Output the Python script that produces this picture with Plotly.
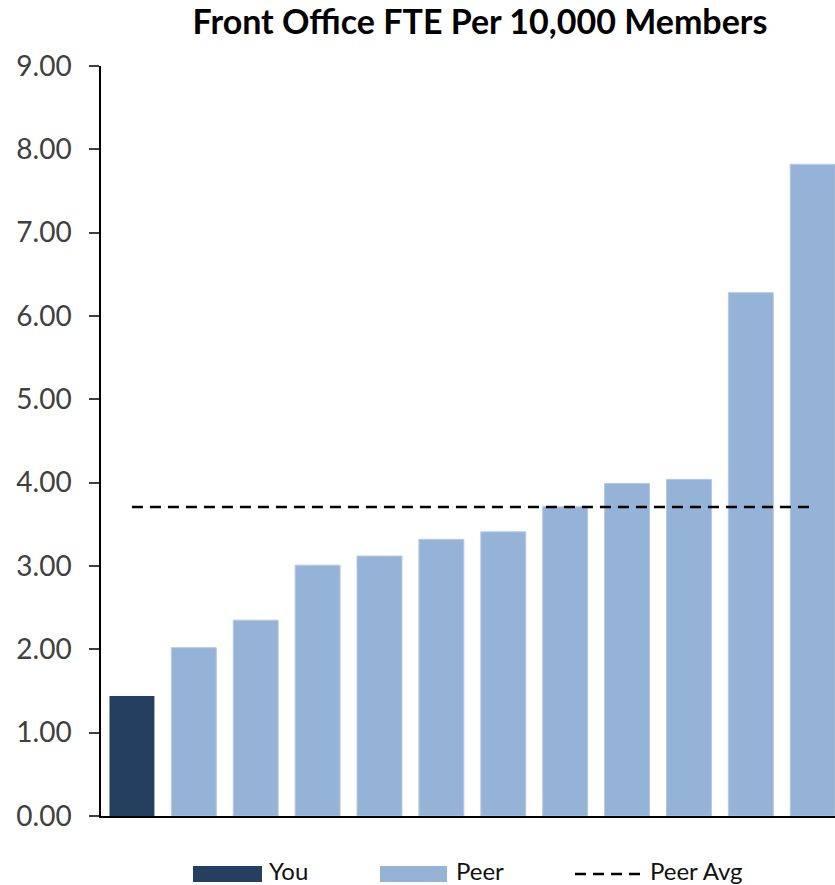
import plotly.graph_objects as go

# Front office staffing, FTE per 10,000 members
categories = ["You", "Peer 1", "Peer 2", "Peer 3", "Peer 4", "Peer 5",
              "Peer 6", "Peer 7", "Peer 8", "Peer 9", "Peer 10", "Peer 11"]
values = [1.44, 2.02, 2.35, 3.01, 3.12, 3.32, 3.41, 3.71, 3.99, 4.04, 6.28, 7.82]
groups = ["You"] + ["Peer"] * 11

y_ticks = [0, 1, 2, 3, 4, 5, 6, 7, 8, 9]
legend_labels = ["You", "Peer", "Peer Avg"]

peer_avg = sum(values) / len(values)

YOU_COLOR = "#243F60"
PEER_COLOR = "#95B3D7"
FONT = "Lato"

W, H = 835, 885
ML, MR, MT, MB = 101, 0, 66, 69
PW, PH = W - ML - MR, H - MT - MB


def px_x(px):
    return (px - ML) / PW


def px_y(py):
    return (H - MB - py) / PH


you_x = [c for c, g in zip(categories, groups) if g == "You"]
you_y = [v for v, g in zip(values, groups) if g == "You"]
peer_x = [c for c, g in zip(categories, groups) if g == "Peer"]
peer_y = [v for v, g in zip(values, groups) if g == "Peer"]

fig = go.Figure()
fig.add_trace(go.Bar(x=you_x, y=you_y, name="You", width=0.726,
                     marker=dict(color=YOU_COLOR, line=dict(width=0))))
fig.add_trace(go.Bar(x=peer_x, y=peer_y, name="Peer", width=0.726,
                     marker=dict(color=PEER_COLOR,
                                 line=dict(width=1, color="#B4C9E4"))))
fig.add_trace(go.Scatter(x=[categories[0], categories[-1]],
                         y=[peer_avg, peer_avg], mode="lines",
                         name="Peer Avg",
                         line=dict(color="black", width=2.5, dash="11px,7px")))

# Legend drawn beneath the plot with wide swatches
shapes = [
    dict(type="rect", xref="paper", yref="paper",
         x0=px_x(193), x1=px_x(262), y0=px_y(882), y1=px_y(866),
         fillcolor=YOU_COLOR, line=dict(width=0), layer="above"),
    dict(type="rect", xref="paper", yref="paper",
         x0=px_x(380), x1=px_x(447), y0=px_y(882), y1=px_y(866),
         fillcolor=PEER_COLOR, line=dict(width=0), layer="above"),
    dict(type="line", xref="paper", yref="paper",
         x0=px_x(575), x1=px_x(640), y0=px_y(874), y1=px_y(874),
         line=dict(color="black", width=2.5, dash="11px,7px"), layer="above"),
]
legend_font = dict(family=FONT, size=24, color="#111111")
annotations = [
    dict(text=legend_labels[0], xref="paper", yref="paper",
         x=px_x(267), y=px_y(870), xanchor="left", yanchor="middle",
         showarrow=False, font=legend_font),
    dict(text=legend_labels[1], xref="paper", yref="paper",
         x=px_x(454), y=px_y(870), xanchor="left", yanchor="middle",
         showarrow=False, font=legend_font),
    dict(text=legend_labels[2], xref="paper", yref="paper",
         x=px_x(648), y=px_y(870), xanchor="left", yanchor="middle",
         showarrow=False, font=legend_font),
]

fig.update_layout(
    width=W, height=H,
    margin=dict(l=ML, r=MR, t=MT, b=MB, pad=0),
    paper_bgcolor="white", plot_bgcolor="white",
    barmode="overlay",
    showlegend=False,
    title=dict(text="<b>Front Office FTE Per 10,000 Members</b>",
               font=dict(family=FONT, size=34, color="black"),
               x=480 / W, xanchor="center",
               xref="container", y=1 - 22 / H, yref="container",
               yanchor="middle"),
    xaxis=dict(type="category", categoryorder="array",
               categoryarray=categories, range=[-0.5, 11.36],
               showticklabels=False, ticks="", showgrid=False,
               showline=True, linecolor="black", linewidth=2,
               zeroline=False, fixedrange=True),
    yaxis=dict(range=[0, 9], tickvals=y_ticks, tickformat=".2f",
               ticks="outside", ticklen=10, tickwidth=1.5,
               tickcolor="#404040", ticklabelstandoff=12,
               tickfont=dict(family=FONT, size=28, color="#404040"),
               showgrid=False, zeroline=False, showline=True,
               linecolor="black", linewidth=1.5, fixedrange=True),
    shapes=shapes,
    annotations=annotations,
)

fig.write_html("out.html")
